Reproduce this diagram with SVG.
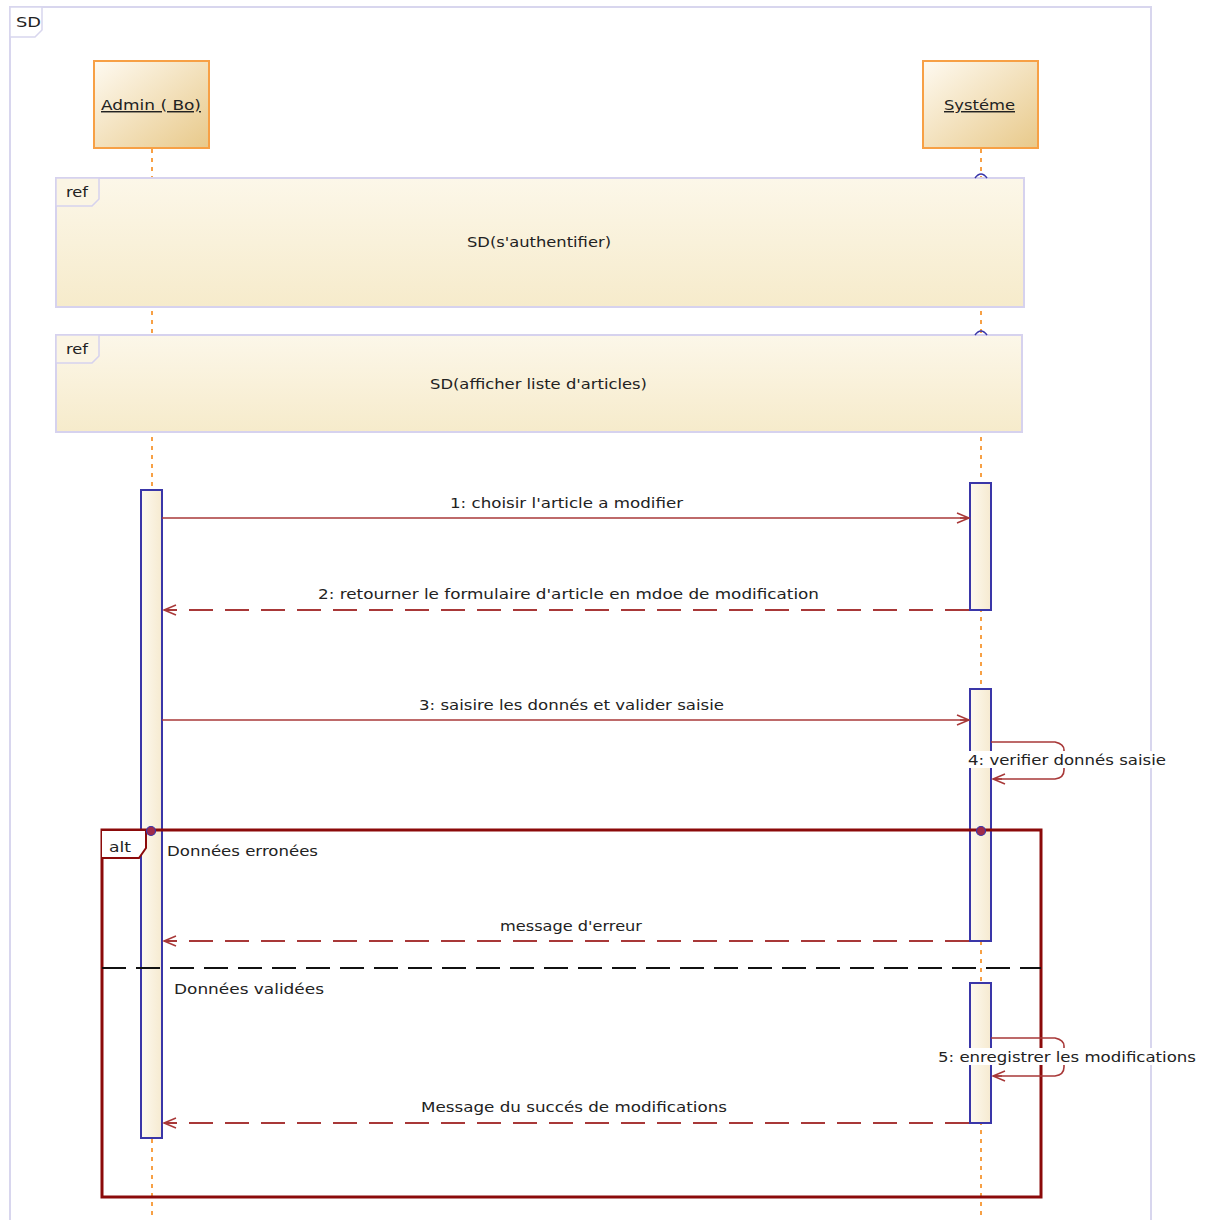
<svg xmlns="http://www.w3.org/2000/svg" width="1207" height="1220" viewBox="0 0 1207 1220">
<defs>
<linearGradient id="headG" x1="0" y1="0" x2="1" y2="1">
<stop offset="0" stop-color="#fefaf1"/>
<stop offset="1" stop-color="#e8c98a"/>
</linearGradient>
<linearGradient id="refG" x1="0" y1="0" x2="0" y2="1">
<stop offset="0" stop-color="#fcf7e9"/>
<stop offset="1" stop-color="#f6ebcb"/>
</linearGradient>
<linearGradient id="actG" x1="0" y1="0" x2="1" y2="0">
<stop offset="0" stop-color="#fdf9ef"/>
<stop offset="1" stop-color="#f6ead0"/>
</linearGradient>
<marker id="open" markerWidth="16" markerHeight="12" refX="14" refY="6" orient="auto" markerUnits="userSpaceOnUse">
<path d="M2,1 L14,6 L2,11 M5,6 L14,6" fill="none" stroke="#a83838" stroke-width="1.5"/>
</marker>
<style>
text{font-family:"DejaVu Sans",Verdana,sans-serif;font-size:14.5px;fill:#222}
.head{fill:url(#headG);stroke:#f7a045;stroke-width:2}
.life{stroke:#f7a045;stroke-width:2;stroke-dasharray:4,5;fill:none}
.ref{fill:url(#refG);stroke:#d6d2ee;stroke-width:2}
.tab{fill:#fbf5e4;stroke:#d6d2ee;stroke-width:1.5}
.act{fill:url(#actG);stroke:#3a36a8;stroke-width:2}
.msg{stroke:#a83838;stroke-width:1.6;fill:none}
.ret{stroke:#a83838;stroke-width:2;fill:none;stroke-dasharray:24,12}
.alt{stroke:#8b0a0a;stroke-width:3;fill:none}
.sep{stroke:#111;stroke-width:2;stroke-dasharray:24,10}
.u{text-decoration:underline}
</style>
</defs>
<rect width="1207" height="1220" fill="#ffffff"/>

<g id="frame">
<path d="M10,1225 V7 H1151 V1225" fill="none" stroke="#d8d6ee" stroke-width="2"/>
<path d="M10,7 H42 V30 L35,37 H10 Z" fill="#ffffff" stroke="#d8d6ee" stroke-width="1.5"/>
<text x="16" y="27" textLength="25" lengthAdjust="spacingAndGlyphs">SD</text>
</g>

<g id="lifelines">
<line class="life" x1="152" y1="149" x2="152" y2="1220"/>
<line class="life" x1="981" y1="149" x2="981" y2="1220"/>
</g>

<g id="admin">
<rect class="head" x="94" y="61" width="115" height="87"/>
<text class="u" x="101" y="110" textLength="100" lengthAdjust="spacingAndGlyphs">Admin ( Bo)</text>
</g>
<g id="systeme">
<rect class="head" x="923" y="61" width="115" height="87"/>
<text class="u" x="944" y="110" textLength="71" lengthAdjust="spacingAndGlyphs">Systéme</text>
</g>

<g id="ref1">
<rect class="ref" x="56" y="178" width="968" height="129"/>
<path class="tab" d="M56,178 H99 V199 L92,206 H56 Z"/>
<text x="66" y="197" textLength="22" lengthAdjust="spacingAndGlyphs">ref</text>
<text x="467" y="247" textLength="144" lengthAdjust="spacingAndGlyphs">SD(s'authentifier)</text>
<path d="M975,178 Q981,170 987,178" fill="none" stroke="#3a36a8" stroke-width="1.5"/>
</g>

<g id="ref2">
<rect class="ref" x="56" y="335" width="966" height="97"/>
<path class="tab" d="M56,335 H99 V356 L92,363 H56 Z"/>
<text x="66" y="354" textLength="22" lengthAdjust="spacingAndGlyphs">ref</text>
<text x="430" y="389" textLength="217" lengthAdjust="spacingAndGlyphs">SD(afficher liste d'articles)</text>
<path d="M975,335 Q981,327 987,335" fill="none" stroke="#3a36a8" stroke-width="1.5"/>
</g>

<g id="activations">
<rect class="act" x="141" y="490" width="21" height="648"/>
<rect class="act" x="970" y="483" width="21" height="127"/>
<rect class="act" x="970" y="689" width="21" height="252"/>
<rect class="act" x="970" y="983" width="21" height="140"/>
</g>

<g id="alt">
<rect class="alt" x="102" y="830" width="939" height="367"/>
<path d="M102,830 H146 V848 L139,858 H102" fill="#ffffff" stroke="#8b0a0a" stroke-width="2"/>
<text x="109" y="852" textLength="22" lengthAdjust="spacingAndGlyphs">alt</text>
<text x="167" y="856" textLength="151" lengthAdjust="spacingAndGlyphs">Données erronées</text>
<line class="sep" x1="102" y1="968" x2="1041" y2="968"/>
<text x="174" y="994" textLength="150" lengthAdjust="spacingAndGlyphs">Données validées</text>
<circle cx="151" cy="831" r="4.5" fill="#a02a4a" stroke="#3a36a8" stroke-width="1.2"/>
<circle cx="981" cy="831" r="4.5" fill="#a02a4a" stroke="#3a36a8" stroke-width="1.2"/>
</g>

<g id="connectors">
<line class="msg" x1="162" y1="518" x2="969" y2="518" marker-end="url(#open)"/>
<text x="450" y="508" textLength="233" lengthAdjust="spacingAndGlyphs">1: choisir l'article a modifier</text>

<line class="ret" x1="969" y1="610" x2="164" y2="610" marker-end="url(#open)"/>
<text x="318" y="599" textLength="501" lengthAdjust="spacingAndGlyphs">2: retourner le formulaire d'article en mdoe de modification</text>

<line class="msg" x1="162" y1="720" x2="969" y2="720" marker-end="url(#open)"/>
<text x="419" y="710" textLength="305" lengthAdjust="spacingAndGlyphs">3: saisire les donnés et valider saisie</text>

<path class="msg" d="M991,742 H1055 Q1064,744 1064,750 V770 Q1064,778 1055,779 H993" marker-end="url(#open)"/>
<rect x="966" y="751" width="202" height="17" fill="#ffffff"/>
<text x="968" y="765" textLength="198" lengthAdjust="spacingAndGlyphs">4: verifier donnés saisie</text>

<line class="ret" x1="969" y1="941" x2="164" y2="941" marker-end="url(#open)"/>
<text x="500" y="931" textLength="142" lengthAdjust="spacingAndGlyphs">message d'erreur</text>

<path class="msg" d="M991,1038 H1055 Q1064,1040 1064,1046 V1067 Q1064,1075 1055,1076 H993" marker-end="url(#open)"/>
<rect x="936" y="1048" width="262" height="17" fill="#ffffff"/>
<text x="938" y="1062" textLength="258" lengthAdjust="spacingAndGlyphs">5: enregistrer les modifications</text>

<line class="ret" x1="969" y1="1123" x2="164" y2="1123" marker-end="url(#open)"/>
<text x="421" y="1112" textLength="306" lengthAdjust="spacingAndGlyphs">Message du succés de modifications</text>
</g>
</svg>
